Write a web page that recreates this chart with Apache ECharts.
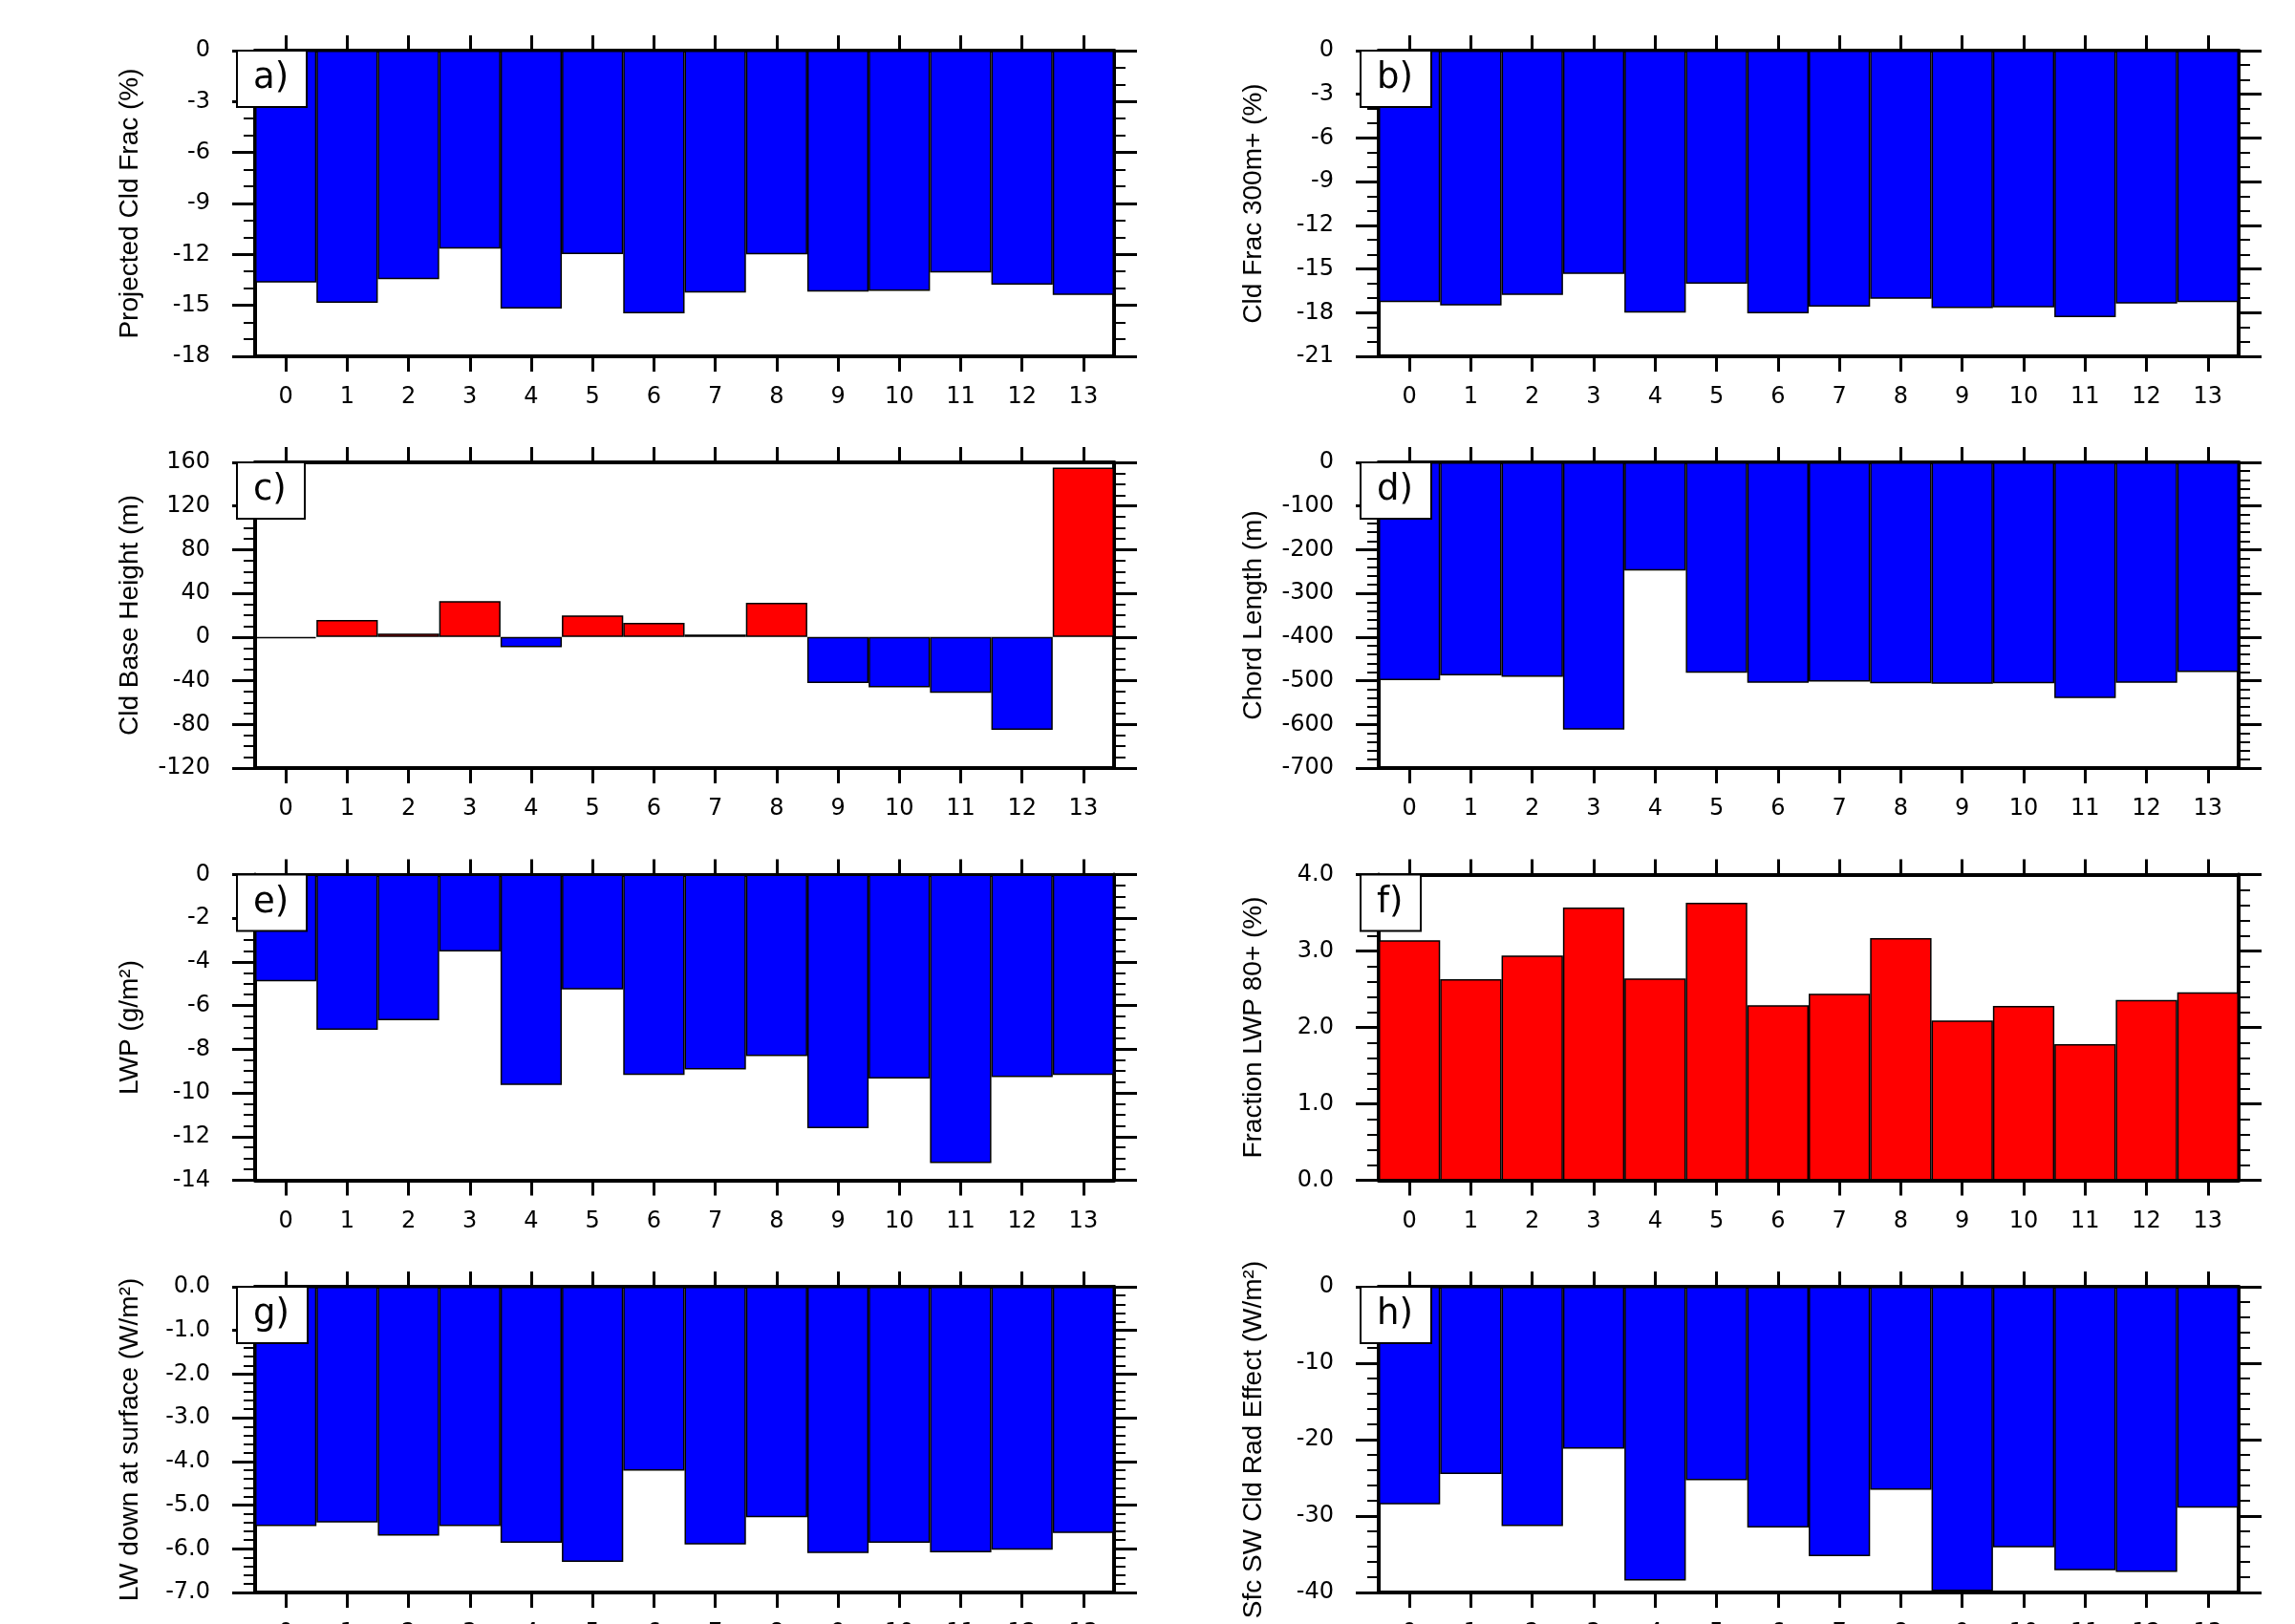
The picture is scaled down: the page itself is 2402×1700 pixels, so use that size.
<!DOCTYPE html>
<html>
<head>
<meta charset="utf-8">
<script src="https://cdn.jsdelivr.net/npm/echarts@6/dist/echarts.min.js"></script>
<style>
html,body{margin:0;padding:0;background:#fff;}
#chart{width:2402px;height:1700px;}
</style>
</head>
<body>
<div id="chart"></div>
<script>
// ---- data ----
const categories = ['0','1','2','3','4','5','6','7','8','9','10','11','12','13'];
const cldFrac    = [-13.65,-14.85,-13.46,-11.66,-15.19,-11.98,-15.47,-14.25,-12.0,-14.19,-14.14,-13.07,-13.78,-14.38];
const cldFrac300 = [-17.28,-17.5,-16.78,-15.34,-18.0,-16.01,-18.05,-17.59,-17.04,-17.68,-17.63,-18.31,-17.37,-17.28];
const cldBase    = [-1.2,15.7,3.2,32.9,-9.3,19.8,13.1,2.3,31.4,-42.2,-46.0,-51.2,-85.0,155.1];
const chordLen   = [-499,-488,-491,-612,-248,-482,-505,-502,-506,-507,-506,-540,-505,-480];
const lwp        = [-4.89,-7.11,-6.67,-3.52,-9.64,-5.26,-9.18,-8.93,-8.31,-11.62,-9.34,-13.21,-9.27,-9.18];
const lwp80      = [3.14,2.63,2.94,3.57,2.64,3.63,2.29,2.44,3.17,2.09,2.28,1.78,2.36,2.46];
const lwDown     = [-5.48,-5.40,-5.70,-5.48,-5.86,-6.30,-4.21,-5.90,-5.28,-6.10,-5.86,-6.08,-6.02,-5.64];
const swCre      = [-28.47,-24.5,-31.3,-21.2,-38.45,-25.3,-31.5,-35.25,-26.55,-39.8,-34.1,-37.1,-37.3,-28.9];

const panelLabels = ['a)','b)','c)','d)','e)','f)','g)','h)'];
const yTitles = ['Projected Cld Frac (%)','Cld Frac 300m+ (%)','Cld Base Height (m)','Chord Length (m)',
                 'LWP (g/m\u00B2)','Fraction LWP 80+ (%)','LW down at surface (W/m\u00B2)','Sfc SW Cld Rad Effect (W/m\u00B2)'];
const yMin   = [-18,-21,-120,-700,-14,0,-7,-40];
const yMax   = [0,0,160,0,0,4,0,0];
const yStep  = [3,3,40,100,2,1,1,10];
const yMinor = [3,3,4,5,4,5,5,5];
const yDecimals = [0,0,0,0,0,1,1,0];
const panelData = [cldFrac,cldFrac300,cldBase,chordLen,lwp,lwp80,lwDown,swCre];

// ---- layout / style ----
const BLUE = '#0000FF', RED = '#FF0000';
const TITLEFONT = "'Liberation Sans', Arial, Helvetica, sans-serif";
const TICKFONT = "'DejaVu Sans', 'Liberation Sans', sans-serif";
const colLeft = [267, 1443];
const colWidth = [899, 900];
const rowTop = [53, 484, 915.5, 1347];
const plotH = 320;

const grids = [], xAxes = [], yAxes = [], series = [], titles = [];
for (let i = 0; i < 8; i++) {
  const col = i % 2, row = Math.floor(i / 2);
  grids.push({left: colLeft[col], top: rowTop[row], width: colWidth[col], height: plotH,
              containLabel: false, outerBoundsMode: 'none'});
  const common = {
    type: 'category', data: categories, gridIndex: i, boundaryGap: true,
    axisLine: {show: true, onZero: false, lineStyle: {color: '#000', width: 4}},
    axisTick: {show: true, alignWithLabel: true, length: 16, lineStyle: {color: '#000', width: 3}},
    splitLine: {show: false}
  };
  xAxes.push(Object.assign({}, common, {
    position: 'bottom',
    axisLabel: {show: true, margin: 31, color: '#000', fontSize: 24, fontFamily: TICKFONT}
  }));
  xAxes.push(Object.assign({}, common, {position: 'top', axisLabel: {show: false}}));
  const dec = yDecimals[i];
  const yCommon = {
    type: 'value', gridIndex: i, min: yMin[i], max: yMax[i], interval: yStep[i],
    axisLine: {show: true, onZero: false, lineStyle: {color: '#000', width: 4}},
    axisTick: {show: true, length: 24, lineStyle: {color: '#000', width: 3}},
    minorTick: {show: true, splitNumber: yMinor[i], length: 12, lineStyle: {color: '#000', width: 2}},
    splitLine: {show: false}, minorSplitLine: {show: false}
  };
  yAxes.push(Object.assign({}, yCommon, {
    position: 'left',
    name: yTitles[i], nameLocation: 'middle', nameRotate: 90, nameGap: 117,
    nameTextStyle: {color: '#000', fontSize: 28, fontFamily: TITLEFONT},
    axisLabel: {show: true, margin: 47, color: '#000', fontSize: 24, fontFamily: TICKFONT,
      formatter: v => Number(v).toFixed(dec)}
  }));
  yAxes.push(Object.assign({}, yCommon, {position: 'right', axisLabel: {show: false}}));
  series.push({
    type: 'bar', xAxisIndex: 2 * i, yAxisIndex: 2 * i, data: panelData[i],
    barCategoryGap: '0%', barGap: '0%',
    itemStyle: {
      color: (i === 2) ? (p => p.value >= 0 ? RED : BLUE) : (i === 5 ? RED : BLUE),
      borderColor: '#000', borderWidth: 1.5
    },
    emphasis: {disabled: true}
  });
  titles.push({
    text: panelLabels[i], left: colLeft[col] - 19, top: rowTop[row],
    padding: [11, 19, 11, 17],
    backgroundColor: '#fff', borderColor: '#000', borderWidth: 2,
    textStyle: {color: '#000', fontSize: 37, fontWeight: 'normal', fontFamily: TICKFONT}
  });
}

const chart = echarts.init(document.getElementById('chart'), null, {renderer: 'canvas'});
chart.setOption({
  backgroundColor: '#fff',
  animation: false,
  title: titles,
  grid: grids,
  xAxis: xAxes,
  yAxis: yAxes,
  series: series
});
</script>
</body>
</html>
